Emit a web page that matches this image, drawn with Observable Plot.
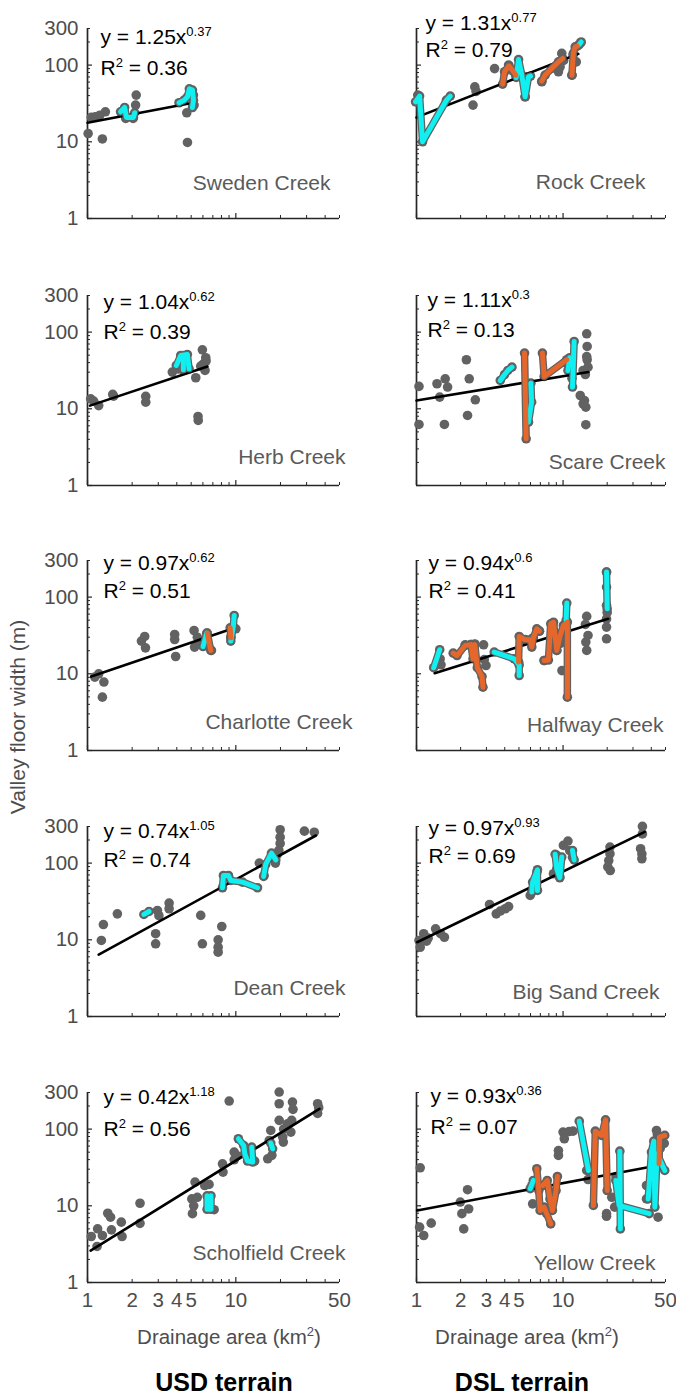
<!DOCTYPE html>
<html><head><meta charset="utf-8">
<script src="https://cdn.jsdelivr.net/npm/d3@7"></script>
<script src="https://cdn.jsdelivr.net/npm/@observablehq/plot@0.6"></script>
<style>
html,body{margin:0;padding:0;background:#fff;}
#fig{position:relative;width:676px;height:1394px;font-family:"Liberation Sans",Arial,sans-serif;overflow:hidden;}
.panel{position:absolute;}
.lbl{position:absolute;white-space:nowrap;transform:translate(-50%,-50%);line-height:1;}
.sup{font-size:13px;position:relative;top:-8px;}
</style></head><body><div id="fig"></div>
<script>
// ---------- labels & ticks ----------
const creeks = ["Sweden Creek","Rock Creek","Herb Creek","Scare Creek","Charlotte Creek","Halfway Creek","Dean Creek","Big Sand Creek","Scholfield Creek","Yellow Creek"];
const coefs = ["1.25","1.31","1.04","1.11","0.97","0.94","0.74","0.97","0.42","0.93"];
const exponents = ["0.37","0.77","0.62","0.3","0.62","0.6","1.05","0.93","1.18","0.36"];
const r2s = ["0.36","0.79","0.39","0.13","0.51","0.41","0.74","0.69","0.56","0.07"];
const terrains = ["USD terrain","DSL terrain"];
const yTitle = "Valley floor width (m)";
const xTitle = "Drainage area (km";
const yMajorTicks = [1,10,100];
const yMinorTicks = [2,3,4,5,6,7,8,9,20,30,40,50,60,70,80,90,200,300];
const yTickLabels = [1,10,100,300];
const xMajorTicks = [1,10];
const xMinorTicks = [2,3,4,5,6,7,8,9,20,30,40,50];
const xTickLabels = [1,2,3,4,5,10,50];

// ---------- data (drainage area km2, valley floor width m) ----------
const swedenGray = [[1.01,12.8],[1.06,20.8],[1.13,21.1],[1.21,22.2],[1.32,24.6],[1.26,10.9],[1.81,20.2],[2.03,20.2],[2.11,30.1],[2.13,40.6],[4.67,23.9],[4.72,9.8],[5.18,40.6],[5.23,30.1]];
const swedenCyan = [[[1.67,24.6],[1.78,28.0],[1.83,20.8],[2.04,20.8],[2.08,23.9]],[[4.14,32.3],[4.48,34.9],[4.72,38.6],[4.86,49.1],[5.1,47.2],[5.18,34.9],[5.1,28.0]]];
const swedenOrange = [];
const swedenFit = [[1,17.7],[4.84,31.6]];

const rockGray = [[1.02,40.6],[2.43,30.1],[2.55,45.3],[2.5,52],[3.41,90],[4.25,100],[5.51,38.6],[5.66,70.4],[7.16,60.6],[9.3,81.9],[9.55,95],[9.8,142],[10.1,115],[11.5,74],[11.7,135],[12.3,110],[13.2,196]];
const rockCyan = [[[0.985,33.2],[1.05,39.4],[1.10,10],[1.6,34.9],[1.70,39.4]],[[4.79,69],[4.97,118],[5.23,74],[5.51,38.6],[5.81,70.4],[6.0,72]],[[12.9,185],[13.3,200]]];
const rockOrange = [[[3.87,56.5],[3.99,81.9],[4.27,98],[4.55,83.5],[4.76,74]],[[7.16,61.8],[7.54,74],[8.37,90.5],[9.3,110],[9.95,122]],[[11.5,74],[11.75,142],[12.1,173],[12.5,177]]];
const rockFit = [[1,20.8],[12.7,140]];

const herbGray = [[1.05,13.5],[1.1,12.6],[1.19,11.0],[1.48,15.4],[1.5,14.6],[2.47,14.5],[2.47,12.2],[3.73,30.1],[4.1,33],[5.37,25.4],[5.56,7.94],[5.58,7.05],[5.95,58.8],[6.27,46.3],[6.2,31.6],[6.05,38.6],[5.8,36],[6.3,42]];
const herbCyan = [[[3.97,36.7],[4.25,49.6],[4.71,51.1],[4.84,33.2]],[[4.43,49.6],[4.43,32.2]]];
const herbOrange = [];
const herbFit = [[1.04,11.0],[6.44,35.6]];

const scareGray = [[1.04,19.6],[1.04,6.25],[1.38,21.2],[1.57,24.6],[1.63,19.2],[1.44,14.2],[1.55,6.25],[2.19,43.6],[2.29,24.6],[2.52,13.1],[2.23,8.19],[5.66,9.05],[5.7,13],[10.3,40],[11.1,31.6],[11.5,25],[14.5,95],[14.6,65],[14.6,43.6],[14.8,34.9],[13.7,31.6],[14.0,12.8],[13.7,11.6],[14.3,10.5],[14.3,6.2],[13.1,14.9],[14.2,28],[14.5,48]];
const scareCyan = [[[3.73,23.4],[3.99,28.0],[4.2,31.6],[4.48,34.9]],[[6.03,21.6],[6.1,12.2],[5.81,6.7]],[[11.9,75.5],[11.6,19.2]],[[10.8,31.6],[11.1,46.3]]];
const scareOrange = [[[5.46,53.2],[5.6,4.06]],[[7.23,53.2],[7.43,26.4],[10.6,43.6]]];
const scareFit = [[1,12.8],[14.9,30.1]];

const charlotteGray = [[1.12,9.05],[1.19,10],[1.29,7.8],[1.26,4.96],[2.31,26.7],[2.43,30.7],[2.46,21.8],[3.87,32.6],[3.87,28],[3.93,16.8],[5.23,36.7],[5.27,22.3],[5.5,30],[5.7,25],[6.85,20.2],[9.25,30],[10,38.6]];
const charlotteCyan = [[[6.01,22.7],[6.37,33.9]],[[9.75,57.6],[9.6,40.6],[9.25,26.7]]];
const charlotteOrange = [[[6.42,33.9],[6.78,20.2]],[[9.16,39.8],[9.25,29.5]]];
const charlotteFit = [[1.06,9.2],[9.75,39.5]];

const halfwayGray = [[1.45,15.6],[1.47,13.1],[2.15,23.9],[2.35,24],[2.5,24.5],[2.87,23.9],[2.98,12.8],[2.9,15.3],[4.97,14.2],[5.5,28],[6.9,36],[7.43,14.9],[8.5,42],[9.06,20.2],[9.83,11.0],[9.6,25],[10.5,42],[14.5,56],[14.5,20.2],[14.3,25.9],[14.8,31.6],[14.2,44],[19.8,212],[19.8,135],[19.8,78],[19.8,51.9],[19.8,40.6],[19.8,28.6],[20.0,63]];
const halfwayCyan = [[[1.31,12.0],[1.44,20.6]],[[3.39,19.2],[4.64,15.7],[5.02,13.0],[5.02,9.5]],[[10.6,83.5],[10.5,49.6]],[[19.8,212],[20.0,70.4]]];
const halfwayOrange = [[[1.78,18.6],[1.89,17.3],[2.15,23.4],[2.35,24.0],[2.43,15.7],[2.5,24],[2.6,12],[2.8,9.2],[2.84,6.7]],[[4.97,14.2],[5.02,30.7],[5.51,27.8],[5.97,27.8],[6.12,22.3],[6.27,29.5],[6.62,38.6],[6.9,36]],[[7.43,14.9],[7.94,15.1],[8.24,44.9],[8.6,47],[9.06,20.2],[9.5,30.1],[10.05,42.7],[10.7,47.2],[10.7,4.96]]];
const halfwayFit = [[1.33,10.2],[20.3,52.2]];

const deanGray = [[1.24,9.8],[1.28,15.8],[1.59,21.8],[2.88,8.87],[2.88,12.0],[2.96,24.1],[3.03,20.6],[3.55,30.1],[3.55,25.4],[5.8,20.8],[5.95,8.87],[7.6,10],[7.6,8.0],[7.6,6.9],[8.04,14.9],[14.4,100],[15.5,69],[19.9,272],[19.9,218],[19.9,180],[19.5,146],[19.1,131],[18.5,100],[29,261],[33.8,253]];
const deanCyan = [[[2.4,21.4],[2.6,23.4]],[[8.13,47.7],[8.25,69],[8.92,69],[9.25,59.4],[11.1,56.5],[14.0,47.7]],[[15.4,67],[15.9,96],[17.4,135],[18.6,110]]];
const deanOrange = [];
const deanFit = [[1.19,6.4],[34.7,229]];

const bigSandGray = [[1.04,9.8],[1.06,8.0],[1.12,12.0],[1.17,9.6],[1.2,10.5],[1.35,13.9],[1.46,12.0],[1.55,10.8],[3.15,28.9],[3.5,21.8],[3.73,23.7],[4.03,25.4],[4.25,27.1],[5.97,37.9],[6.62,76],[8.6,72.6],[9.06,126],[10.05,170],[10.8,194],[11.1,146],[11.6,119],[9.5,65.7],[20.9,162],[20.9,132],[20.5,108],[20.2,89],[21,80],[34.8,301],[34.8,240],[33.8,154],[34.5,132],[34.5,114]];
const bigSandCyan = [[[6.12,41.9],[6.2,56.5],[6.69,81.9],[6.69,44]],[[8.83,130],[9.06,84],[9.5,64.4],[9.8,120]],[[11.6,146],[11.9,110]]];
const bigSandOrange = [];
const bigSandFit = [[1.01,9.3],[36.1,255]];

const scholfieldGray = [[1.06,3.98],[1.17,5.01],[1.16,2.95],[1.26,4.1],[1.37,8.0],[1.43,7.1],[1.45,4.86],[1.69,6.12],[1.71,3.98],[2.26,10.8],[2.26,5.9],[5.05,12.3],[5.1,7.9],[5.2,10],[5.31,20.4],[5.5,12.9],[6.17,18.4],[6.6,19],[7.14,8.9],[8.13,35.3],[8.2,27.5],[9.02,232],[9.75,50.1],[9.75,39.8],[10.2,45],[13.4,38.3],[16.4,41],[16.8,71],[17.2,96],[17.5,45.5],[19.6,304],[19.6,214],[19.6,130],[20.7,78.7],[20.9,67.7],[21,100],[22.3,117],[23.5,91.4],[24.1,225],[24.3,181],[23.8,130],[35.6,214],[35.6,160],[36.2,190]];
const scholfieldCyan = [[[6.4,13.5],[6.4,9.0],[6.8,9.0],[6.8,13.5]],[[10.4,74.8],[11.3,61.2],[11.5,47.7],[12.0,38.3],[13.0,37.2],[12.8,58.2]],[[17.2,65.7],[17.7,55.4]]];
const scholfieldOrange = [];
const scholfieldFit = [[1.05,2.6],[36.6,184]];

const yellowGray = [[1.06,31.3],[1.05,5.27],[1.12,4.1],[1.26,5.94],[1.99,11.2],[2.04,7.9],[2.1,5.0],[2.23,16.2],[2.27,9.1],[6.12,18.3],[6.2,10.6],[9.3,45.3],[9.3,52.4],[10.0,91.4],[10.2,74.8],[11.0,93],[11.7,94],[14.5,28.9],[14.8,22],[19.8,7.9],[19.8,7.3],[21.5,12.9],[22.5,9.6],[23,24],[37.1,18.4],[37.1,12.3],[44.5,7.1],[43.4,96],[44,85],[46,56],[49,65]];
const yellowCyan = [[[5.97,16.7],[6.27,21.4]],[[12.9,127],[14.9,28.9]],[[24.4,51.6],[24.6,5.0]],[[22.9,21.4],[24.1,10.1],[38.7,7.9]],[[38.1,12.3],[40.1,50.1],[41.6,69.7],[42.3,9.6],[43.8,47.5],[49.4,28.9]]];
const yellowOrange = [[[6.62,30.4],[6.83,15.8],[6.97,8.7],[7.43,9.6],[7.73,7.9],[8.24,5.8]],[[7.27,18.4],[7.8,21.4],[8.14,12.3],[8.46,8.7],[8.96,15.8],[9.15,24.1]],[[16.1,10.1],[16.6,94],[18.3,82.7],[19.5,132],[20.0,15.8]],[[45.2,35.3],[45.5,78.7],[49.4,82.7]]];
const yellowFit = [[1.01,8.7],[38.1,31.9]];

const grays = [swedenGray,rockGray,herbGray,scareGray,charlotteGray,halfwayGray,deanGray,bigSandGray,scholfieldGray,yellowGray];
const cyans = [swedenCyan,rockCyan,herbCyan,scareCyan,charlotteCyan,halfwayCyan,deanCyan,bigSandCyan,scholfieldCyan,yellowCyan];
const oranges = [swedenOrange,rockOrange,herbOrange,scareOrange,charlotteOrange,halfwayOrange,deanOrange,bigSandOrange,scholfieldOrange,yellowOrange];
const fits = [swedenFit,rockFit,herbFit,scareFit,charlotteFit,halfwayFit,deanFit,bigSandFit,scholfieldFit,yellowFit];

// ---------- layout ----------
const layout = [
  {eqDx:13, eqDy:9,  r2Dy:40, nameDx:-9,  nameDy:-35},
  {eqDx:9,  eqDy:-5, r2Dy:22, nameDx:-20, nameDy:-36},
  {eqDx:16, eqDy:7,  r2Dy:37, nameDx:6,   nameDy:-28},
  {eqDx:11, eqDy:5,  r2Dy:35, nameDx:0,   nameDy:-23},
  {eqDx:16, eqDy:3,  r2Dy:31, nameDx:13,  nameDy:-28},
  {eqDx:12, eqDy:3,  r2Dy:31, nameDx:-2,  nameDy:-25},
  {eqDx:16, eqDy:5,  r2Dy:34, nameDx:6,   nameDy:-28},
  {eqDx:12, eqDy:2,  r2Dy:30, nameDx:-6,  nameDy:-24},
  {eqDx:16, eqDy:5,  r2Dy:37, nameDx:6,   nameDy:-29},
  {eqDx:14, eqDy:4,  r2Dy:35, nameDx:-10, nameDy:-19}
];
const cols = [{left:0,width:360,ml:87,mr:21},{left:340,width:336,ml:76,mr:11}];
const frameTops = [28,295,560,826,1092];
const MT = 28, FH = 190, MB = 32;
const AX = "#262626", TICKC = "#4d4d4d", GRAY = "#626262", CYAN = "#10f0f0", ORANGE = "#e6672c";
const FONT = "'Liberation Sans', Arial, Helvetica, sans-serif";

function superscripts(svg){
  svg.querySelectorAll("text").forEach(t => {
    const s = t.textContent; if (!s.includes("^{")) return;
    t.textContent = "";
    const re = /\^\{([^}]*)\}/g; let last = 0, m, shifted = false;
    const add = (txt, sup) => {
      const ts = document.createElementNS("http://www.w3.org/2000/svg","tspan");
      ts.textContent = txt;
      if (sup) { ts.setAttribute("font-size","13"); ts.setAttribute("dy","-8"); }
      else if (shifted) ts.setAttribute("dy","8");
      t.appendChild(ts); shifted = sup;
    };
    while ((m = re.exec(s))) { if (m.index > last) add(s.slice(last, m.index), false); add(m[1], true); last = re.lastIndex; }
    if (last < s.length) add(s.slice(last), false);
  });
}

const fig = document.getElementById("fig");
creeks.forEach((name, i) => {
  const col = i % 2, row = Math.floor(i / 2), c = cols[col], L = layout[i];
  const FW = c.width - c.ml - c.mr;
  const gray = grays[i].map(([x,y]) => ({x,y}));
  const cy = [], or = [];
  cyans[i].forEach((s,k) => s.forEach(([x,y]) => cy.push({x,y,id:"c"+k})));
  oranges[i].forEach((s,k) => s.forEach(([x,y]) => or.push({x,y,id:"o"+k})));
  const fit = fits[i].map(([x,y]) => ({x,y}));
  const marks = [
    Plot.tickY(yMinorTicks, {y: d => d, insetRight: FW - 3, stroke: AX, strokeWidth: 1}),
    Plot.tickY(yMajorTicks, {y: d => d, insetRight: FW - 5, stroke: AX, strokeWidth: 1.2}),
    Plot.tickX(xMinorTicks, {x: d => d, insetTop: FH - 3, stroke: AX, strokeWidth: 1}),
    Plot.tickX(xMajorTicks, {x: d => d, insetTop: FH - 5, stroke: AX, strokeWidth: 1.2}),
    Plot.ruleX([1], {stroke: AX, strokeWidth: 1.7}),
    Plot.ruleY([1], {stroke: AX, strokeWidth: 1.7}),
    Plot.dot(gray.concat(cy, or), {x: "x", y: "y", r: 4.8, fill: GRAY, stroke: null}),
    Plot.line(fit, {x: "x", y: "y", stroke: "#000", strokeWidth: 2.6}),
    Plot.line(cy.concat(or), {x: "x", y: "y", z: "id", stroke: GRAY, strokeWidth: 7.5, strokeLinejoin: "round", strokeLinecap: "round"}),
    Plot.line(cy, {x: "x", y: "y", z: "id", stroke: CYAN, strokeWidth: 5, strokeLinejoin: "round", strokeLinecap: "round"}),
    Plot.line(or, {x: "x", y: "y", z: "id", stroke: ORANGE, strokeWidth: 5, strokeLinejoin: "round", strokeLinecap: "round"}),
    Plot.text([`y = ${coefs[i]}x^{${exponents[i]}}`], {text: d => d, frameAnchor: "top-left", textAnchor: "start", lineAnchor: "middle", dx: L.eqDx, dy: L.eqDy, fontSize: 21, fill: "#000"}),
    Plot.text([`R^{2} = ${r2s[i]}`], {text: d => d, frameAnchor: "top-left", textAnchor: "start", lineAnchor: "middle", dx: L.eqDx, dy: L.r2Dy, fontSize: 21, fill: "#000"}),
    Plot.text([name], {text: d => d, frameAnchor: "bottom-right", textAnchor: "end", lineAnchor: "middle", dx: L.nameDx, dy: L.nameDy, fontSize: 21, fill: "#5a5a5a"})
  ];
  if (col === 0) marks.push(Plot.text(yTickLabels, {y: d => d, text: d => String(d), frameAnchor: "left", textAnchor: "end", lineAnchor: "middle", dx: -9, fontSize: 20.5, fill: TICKC}));
  if (row === 4) marks.push(Plot.text(xTickLabels, {x: d => d, text: d => String(d), frameAnchor: "bottom", lineAnchor: "middle", dy: 18, fontSize: 20.5, fill: TICKC}));
  const svg = Plot.plot({
    width: c.width, height: MT + FH + MB,
    marginLeft: c.ml, marginRight: c.mr, marginTop: MT, marginBottom: MB,
    x: {type: "log", domain: [1, 50], axis: null},
    y: {type: "log", domain: [1, 300], axis: null},
    style: {background: "transparent", overflow: "visible", fontFamily: FONT},
    marks
  });
  superscripts(svg);
  svg.classList.add("panel");
  svg.style.left = c.left + "px";
  svg.style.top = (frameTops[row] - MT) + "px";
  fig.appendChild(svg);
});

function label(html, x, y, css) {
  const d = document.createElement("div");
  d.className = "lbl"; d.innerHTML = html;
  d.style.left = x + "px"; d.style.top = y + "px";
  Object.assign(d.style, css);
  fig.appendChild(d);
  return d;
}
const yl = label(yTitle, 17, 717, {fontSize: "21px", color: "#4d4d4d"});
yl.style.transform = "translate(-50%,-50%) rotate(-90deg)";
label(`${xTitle}<span class="sup">2</span>)`, 229, 1337, {fontSize: "20.5px", color: "#4d4d4d"});
label(`${xTitle}<span class="sup">2</span>)`, 527, 1337, {fontSize: "20.5px", color: "#4d4d4d"});
label(terrains[0], 224, 1382, {fontSize: "25px", fontWeight: "bold", color: "#000"});
label(terrains[1], 522, 1382, {fontSize: "25px", fontWeight: "bold", color: "#000"});
</script></body></html>
